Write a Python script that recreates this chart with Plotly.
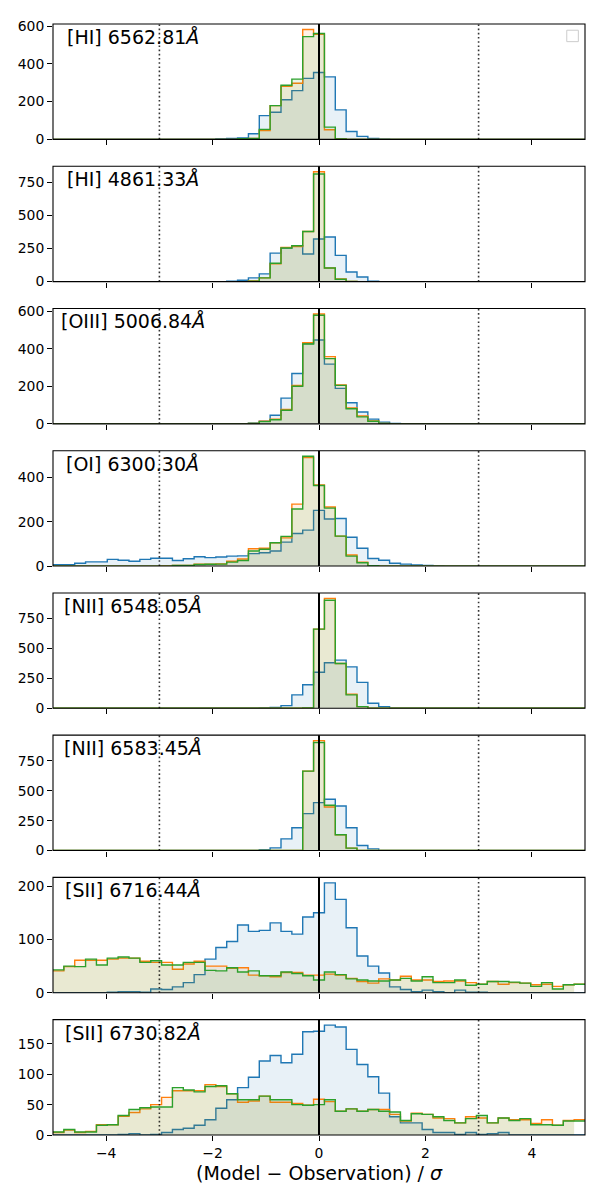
import numpy as np
import plotly.graph_objects as go
from plotly.subplots import make_subplots

# 49 bins between -5 and 5 (bin 24 is centred on 0)
edges = np.linspace(-5, 5, 50)
NB = len(edges) - 1


def full(counts):
    # pad the right side of a count list with empty bins
    return list(counts) + [0] * (NB - len(counts))


# --- counts per bin ---
ha_blue = [0]*15 + [2, 5, 8, 30, 126, 144, 210, 258, 323, 354, 331, 156, 42, 16, 5, 1]
ha_orange = [0]*17 + [2, 5, 47, 179, 281, 297, 582, 556, 51, 2]
ha_green = [0]*17 + [3, 5, 53, 179, 287, 319, 544, 561, 65, 2]

hb_blue = [0]*16 + [3, 10, 28, 58, 215, 253, 271, 208, 321, 336, 198, 73, 35, 3]
hb_orange = [0]*18 + [5, 28, 135, 258, 265, 378, 829, 103, 20, 1]
hb_green = [0]*18 + [4, 28, 138, 253, 271, 378, 812, 103, 18, 1]

o3_blue = [0]*18 + [3, 14, 46, 137, 268, 428, 446, 318, 189, 112, 63, 25, 9, 2]
o3_orange = [0]*18 + [2, 14, 25, 77, 204, 432, 585, 358, 207, 84, 42, 16, 2]
o3_green = [0]*18 + [2, 12, 22, 72, 200, 425, 578, 347, 205, 80, 37, 14, 2]

o1_blue = [6, 6, 13, 19, 19, 30, 26, 22, 30, 35, 35, 25, 33, 42, 38, 41, 45, 46,
           56, 60, 68, 108, 147, 162, 251, 212, 214, 130, 80, 34, 26, 13, 9, 5, 3, 1]
o1_orange = [0]*10 + [1, 3, 3, 8, 8, 10, 22, 32, 78, 80, 105, 127, 279, 489, 366,
                      266, 135, 50, 18, 2]
o1_green = [0]*11 + [3, 3, 7, 8, 9, 18, 25, 68, 76, 105, 134, 257, 495, 363,
                     261, 135, 45, 15, 2]

n1_blue = [0]*19 + [3, 8, 22, 112, 196, 300, 379, 401, 345, 216, 42, 14]
n1_orange = [0]*23 + [2, 659, 915, 373, 118, 14]
n1_green = [0]*23 + [2, 659, 900, 373, 112, 14]

n2_blue = [0]*19 + [8, 22, 98, 191, 309, 401, 429, 373, 191, 42, 14]
n2_orange = [0]*23 + [665, 920, 365, 132, 20]
n2_green = [0]*23 + [665, 905, 379, 132, 20]

s1_blue = [0]*5 + [1, 2, 2, 1, 7, 6, 11, 19, 34, 63, 85, 96, 127, 115, 117,
                   131, 115, 110, 142, 150, 206, 175, 122, 69, 50, 37, 11, 6, 2, 5,
                   2, 0, 5, 1, 1]
s1_orange = [41, 49, 61, 61, 61, 63, 65, 65, 59, 57,
             57, 44, 54, 59, 50, 50, 46, 47, 33, 32,
             30, 38, 38, 33, 33, 35, 33, 27, 21, 18,
             26, 24, 31, 24, 24, 21, 22, 22, 19, 16,
             21, 16, 19, 18, 15, 16, 12, 15, 16]
s1_green = [43, 50, 49, 63, 52, 65, 67, 65, 57, 60,
            52, 52, 57, 57, 42, 41, 47, 39, 41, 32,
            32, 39, 36, 32, 24, 39, 34, 26, 24, 22,
            22, 24, 27, 22, 30, 19, 19, 24, 14, 16,
            21, 21, 20, 18, 12, 19, 7, 15, 16]

s2_blue = [0]*6 + [1, 2, 0, 1, 4, 9, 11, 16, 25, 44, 58, 78, 95, 122, 131, 119,
                   133, 170, 171, 181, 178, 141, 116, 96, 69, 30, 20, 20, 9, 4, 4,
                   1, 4, 1, 2, 4]
s2_orange = [4, 8, 4, 6, 17, 17, 31, 37, 43, 50,
             62, 73, 73, 73, 83, 80, 68, 54, 56, 64,
             54, 54, 52, 49, 59, 55, 39, 43, 39, 42,
             42, 34, 23, 36, 34, 28, 27, 20, 30, 28,
             20, 28, 25, 25, 19, 25, 16, 24, 25]
s2_green = [5, 9, 5, 5, 16, 17, 32, 42, 45, 46,
            46, 78, 74, 71, 80, 81, 68, 58, 58, 64,
            58, 58, 50, 49, 50, 58, 39, 43, 39, 42,
            39, 38, 24, 35, 34, 30, 24, 20, 27, 32,
            20, 28, 24, 27, 17, 17, 16, 23, 23]

line_names = ['[HI] 6562.81', '[HI] 4861.33', '[OIII] 5006.84', '[OI] 6300.30',
              '[NII] 6548.05', '[NII] 6583.45', '[SII] 6716.44', '[SII] 6730.82']
panels = [(ha_blue, ha_orange, ha_green),
          (hb_blue, hb_orange, hb_green),
          (o3_blue, o3_orange, o3_green),
          (o1_blue, o1_orange, o1_green),
          (n1_blue, n1_orange, n1_green),
          (n2_blue, n2_orange, n2_green),
          (s1_blue, s1_orange, s1_green),
          (s2_blue, s2_orange, s2_green)]
ytick_step = [200, 250, 200, 200, 250, 250, 100, 50]

colors = ['#1f77b4', '#ff7f0e', '#2ca02c']
fills = ['rgba(31,119,180,0.1)', 'rgba(255,127,14,0.1)', 'rgba(44,160,44,0.1)']

fig = make_subplots(rows=8, cols=1, shared_xaxes=True, vertical_spacing=27/1117)

for i, (name, series) in enumerate(zip(line_names, panels)):
    r = i + 1
    top = 0
    for counts, c, fc in zip(series, colors, fills):
        counts = full(counts)
        top = max(top, max(counts))
        # filled area stops at the left edge of the last bin
        fig.add_trace(go.Scatter(x=edges[:-1], y=counts, mode='lines',
                                 line=dict(width=0, shape='hv'), fill='tozeroy',
                                 fillcolor=fc, hoverinfo='skip'), row=r, col=1)
        fig.add_trace(go.Scatter(x=edges, y=counts + [counts[-1]], mode='lines',
                                 line=dict(color=c, width=1.4, shape='hv')),
                      row=r, col=1)
    fig.update_yaxes(range=[0, 1.05 * top], tick0=0, dtick=ytick_step[i], row=r, col=1)
    for xv in (-3, 3):
        fig.add_vline(x=xv, line=dict(color='rgba(0,0,0,0.8)', width=1.6,
                                      dash='1.6px,2.6px'), row=r, col=1)
    fig.add_vline(x=0, line=dict(color='black', width=2), row=r, col=1)
    xr = 'x' if r == 1 else f'x{r}'
    yr = 'y' if r == 1 else f'y{r}'
    # axes frame centred on the plot edges (covers the zero-count step lines)
    fig.add_shape(type='rect', xref=xr + ' domain', yref=yr + ' domain',
                  x0=0, x1=1, y0=0, y1=1, line=dict(color='black', width=1.1),
                  fillcolor='rgba(0,0,0,0)', layer='above')
    fig.add_annotation(text=name + ' <i>Å</i>'.strip(), x=-3.5, xref=xr,
                       y=0.888, yref=yr + ' domain', xanchor='center', yanchor='middle',
                       showarrow=False, font=dict(size=19, color='black'))

# empty legend frame in the first panel
fig.add_shape(type='rect', xref='x domain', yref='y domain',
              x0=0.9657, x1=0.9875, y0=0.847, y1=0.946,
              line=dict(color='#cccccc', width=1), fillcolor='white')

fig.add_annotation(text='(Model − Observation) / <i>σ</i>', xref='paper', yref='paper',
                   x=0.5, y=-0.034, xanchor='center', yanchor='middle',
                   showarrow=False, font=dict(size=19, color='black'))

fig.update_xaxes(range=[-5, 5], tickvals=[-4, -2, 0, 2, 4], showline=False,
                 ticks='outside', ticklen=5, tickwidth=1.1, tickcolor='black',
                 showgrid=False, zeroline=False, tickfont=dict(size=13.9, color='black'))
fig.update_yaxes(showline=False, ticks='outside', ticklen=5, tickwidth=1.1,
                 tickcolor='black', showgrid=False, zeroline=False,
                 tickfont=dict(size=13.9, color='black'))

# the page body adds 8px around the plot, so the figure is made 8px smaller
fig.update_layout(width=592, height=1192, margin=dict(l=43, r=15, t=10, b=65),
                  plot_bgcolor='white', paper_bgcolor='white', showlegend=False,
                  font=dict(family='DejaVu Sans', color='black'))

fig.write_html("out.html")
